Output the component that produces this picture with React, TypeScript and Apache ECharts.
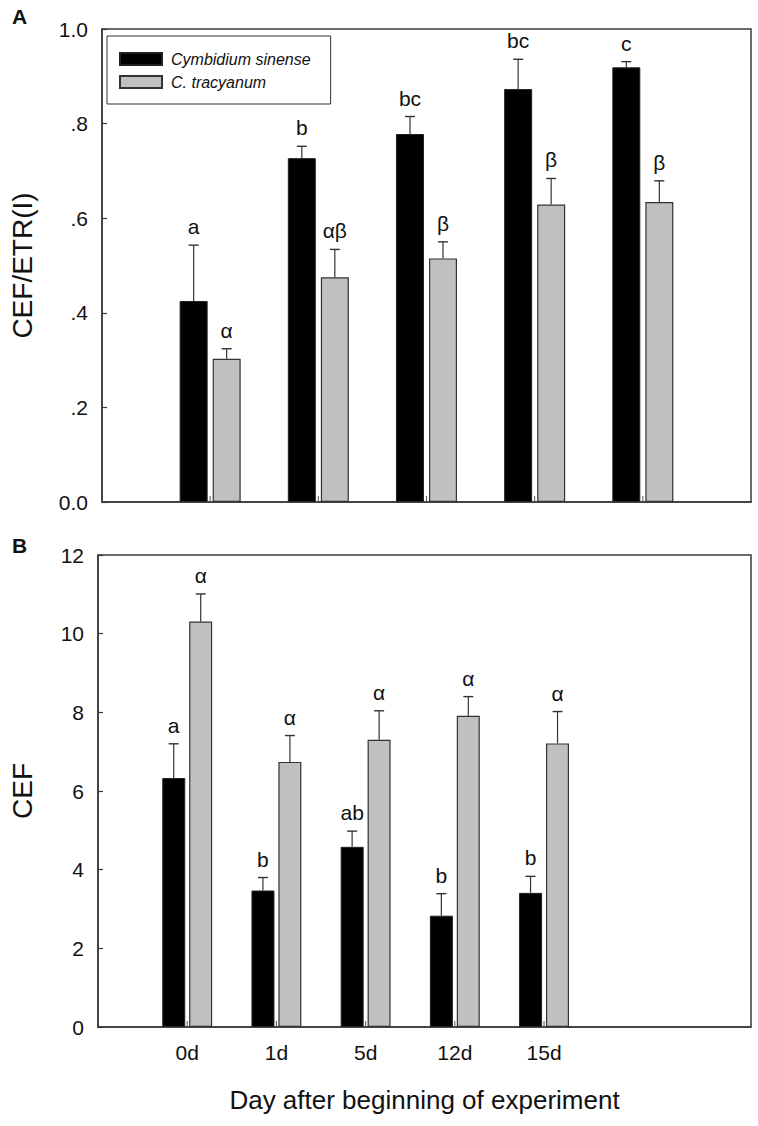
import React, { useEffect, useRef } from "react";
import * as echarts from "echarts";

const categories = ["0d", "1d", "5d", "12d", "15d"];
const seriesNames = ["Cymbidium sinense", "C. tracyanum"];

// Panel A: CEF/ETR(I)
const ratioSinense = [0.425, 0.727, 0.778, 0.873, 0.919];
const ratioSinenseErr = [0.118, 0.025, 0.037, 0.063, 0.012];
const ratioTracyanum = [0.303, 0.475, 0.515, 0.629, 0.634];
const ratioTracyanumErr = [0.021, 0.059, 0.035, 0.055, 0.045];
const ratioSinenseLetters = ["a", "b", "bc", "bc", "c"];
const ratioTracyanumLetters = ["α", "αβ", "β", "β", "β"];
const ratioTicks = ["0.0", ".2", ".4", ".6", ".8", "1.0"];

// Panel B: CEF
const cefSinense = [6.33, 3.47, 4.58, 2.83, 3.41];
const cefSinenseErr = [0.87, 0.33, 0.4, 0.56, 0.42];
const cefTracyanum = [10.31, 6.74, 7.3, 7.91, 7.21];
const cefTracyanumErr = [0.7, 0.67, 0.74, 0.49, 0.81];
const cefSinenseLetters = ["a", "b", "ab", "b", "b"];
const cefTracyanumLetters = ["α", "α", "α", "α", "α"];

const FONT = "'Liberation Sans', Arial, Helvetica, sans-serif";
const AXIS = "#3a3a3a";

function pairs(vals: number[]) {
  return vals.map((v, i) => [i + 1, v]);
}

function errSeries(
  gridIdx: number,
  means: number[],
  errs: number[],
  letters: string[],
  offset: number,
  fontSize: number,
  drawTick: boolean
) {
  return {
    type: "custom",
    xAxisIndex: gridIdx,
    yAxisIndex: gridIdx,
    silent: true,
    clip: false,
    z: 5,
    data: means.map((m, i) => [i + 1, m, errs[i]]),
    renderItem: (params: any, api: any) => {
      const x = api.value(0);
      const m = api.value(1);
      const e = api.value(2);
      const pTop = api.coord([x, m]);
      const pCap = api.coord([x, m + e]);
      const pBase = api.coord([x, 0]);
      const cx = pTop[0] + offset;
      const children: any[] = [
        {
          type: "line",
          shape: { x1: cx, y1: pTop[1], x2: cx, y2: pCap[1] },
          style: { stroke: "#333", lineWidth: 1.2 },
        },
        {
          type: "line",
          shape: { x1: cx - 5, y1: pCap[1], x2: cx + 5, y2: pCap[1] },
          style: { stroke: "#333", lineWidth: 1.4 },
        },
        {
          type: "text",
          x: cx,
          y: pCap[1] - 8,
          style: {
            text: letters[params.dataIndex],
            font: `${fontSize}px ${FONT}`,
            fill: "#111",
            align: "center",
            verticalAlign: "bottom",
            textAlign: "center",
            textVerticalAlign: "bottom",
          },
        },
      ];
      if (drawTick) {
        children.push({
          type: "line",
          shape: { x1: pBase[0], y1: pBase[1], x2: pBase[0], y2: pBase[1] - 6 },
          style: { stroke: "#555", lineWidth: 1 },
        });
      }
      return { type: "group", children };
    },
  };
}

export default function App() {
  const ref = useRef<HTMLDivElement>(null);
  useEffect(() => {
    if (!ref.current) return;
    const chart = echarts.init(ref.current, undefined, { renderer: "svg" });
    const axisLine = { show: true, lineStyle: { color: AXIS, width: 1.5 } };
    const gridCommon = { show: true, borderColor: AXIS, borderWidth: 1.5, backgroundColor: "transparent" };
    const barA = 28;
    const barB = 23;
    chart.setOption({
      animation: false,
      backgroundColor: "#fff",
      textStyle: { fontFamily: FONT },
      grid: [
        { ...gridCommon, left: 97, top: 29, width: 654, height: 473 },
        { ...gridCommon, left: 97, top: 555, width: 654, height: 472 },
      ],
      legend: {
        left: 107,
        top: 36,
        orient: "vertical",
        selectedMode: false,
        itemWidth: 42,
        itemHeight: 12,
        itemGap: 7,
        padding: [15, 20, 14, 12],
        borderColor: "#333",
        borderWidth: 1,
        icon: "rect",
        data: seriesNames,
        textStyle: { fontSize: 16, fontStyle: "italic", color: "#111", fontFamily: FONT, padding: [0, 0, 0, 4] },
      },
      xAxis: [
        {
          gridIndex: 0,
          type: "value",
          min: 0,
          max: 6,
          interval: 1,
          axisLine,
          axisTick: { show: false },
          axisLabel: { show: false },
          splitLine: { show: false },
        },
        {
          gridIndex: 1,
          type: "value",
          min: 0,
          max: 7.32,
          interval: 1,
          axisLine,
          axisTick: { show: false },
          axisLabel: {
            fontSize: 21,
            color: "#111",
            margin: 15,
            formatter: (v: number) => categories[v - 1] ?? "",
          },
          splitLine: { show: false },
          name: "Day after beginning of experiment",
          nameLocation: "middle",
          nameGap: 60,
          nameTextStyle: { fontSize: 26, color: "#111" },
        },
      ],
      yAxis: [
        {
          gridIndex: 0,
          type: "value",
          min: 0,
          max: 1,
          interval: 0.2,
          axisLine,
          axisTick: { show: true, inside: true, length: 5, lineStyle: { color: AXIS, width: 1.2 } },
          axisLabel: {
            fontSize: 21,
            color: "#111",
            margin: 14,
            formatter: (v: number) => ratioTicks[Math.round(v * 5)],
          },
          splitLine: { show: false },
          name: "CEF/ETR(I)",
          nameLocation: "middle",
          nameGap: 66,
          nameTextStyle: { fontSize: 28, color: "#111" },
        },
        {
          gridIndex: 1,
          type: "value",
          min: 0,
          max: 12,
          interval: 2,
          axisLine,
          axisTick: { show: true, inside: true, length: 5, lineStyle: { color: AXIS, width: 1.2 } },
          axisLabel: { fontSize: 21, color: "#111", margin: 14 },
          splitLine: { show: false },
          name: "CEF",
          nameLocation: "middle",
          nameGap: 62,
          nameTextStyle: { fontSize: 28, color: "#111" },
        },
      ],
      graphic: [
        { type: "text", left: 12, top: 6, style: { text: "A", font: `bold 21px ${FONT}`, fill: "#111" } },
        { type: "text", left: 12, top: 535, style: { text: "B", font: `bold 21px ${FONT}`, fill: "#111" } },
      ],
      series: [
        {
          name: seriesNames[0],
          type: "bar",
          xAxisIndex: 0,
          yAxisIndex: 0,
          barWidth: barA,
          barGap: "18%",
          data: pairs(ratioSinense),
          itemStyle: { color: "#000", borderColor: "#222", borderWidth: 1 },
        },
        {
          name: seriesNames[1],
          type: "bar",
          xAxisIndex: 0,
          yAxisIndex: 0,
          barWidth: barA,
          barGap: "18%",
          data: pairs(ratioTracyanum),
          itemStyle: { color: "#c0c0c0", borderColor: "#333", borderWidth: 1.2 },
        },
        {
          name: seriesNames[0],
          type: "bar",
          xAxisIndex: 1,
          yAxisIndex: 1,
          barWidth: barB,
          barGap: "17%",
          data: pairs(cefSinense),
          itemStyle: { color: "#000", borderColor: "#222", borderWidth: 1 },
        },
        {
          name: seriesNames[1],
          type: "bar",
          xAxisIndex: 1,
          yAxisIndex: 1,
          barWidth: barB,
          barGap: "17%",
          data: pairs(cefTracyanum),
          itemStyle: { color: "#c0c0c0", borderColor: "#333", borderWidth: 1.2 },
        },
        errSeries(0, ratioSinense, ratioSinenseErr, ratioSinenseLetters, -(barA + 5) / 2, 21, true),
        errSeries(0, ratioTracyanum, ratioTracyanumErr, ratioTracyanumLetters, (barA + 5) / 2, 21, false),
        errSeries(1, cefSinense, cefSinenseErr, cefSinenseLetters, -(barB + 4) / 2, 21, true),
        errSeries(1, cefTracyanum, cefTracyanumErr, cefTracyanumLetters, (barB + 4) / 2, 21, false),
      ],
    });
    return () => chart.dispose();
  }, []);
  return <div ref={ref} style={{ position: "fixed", left: 0, top: 0, width: 758, height: 1126 }} />;
}
